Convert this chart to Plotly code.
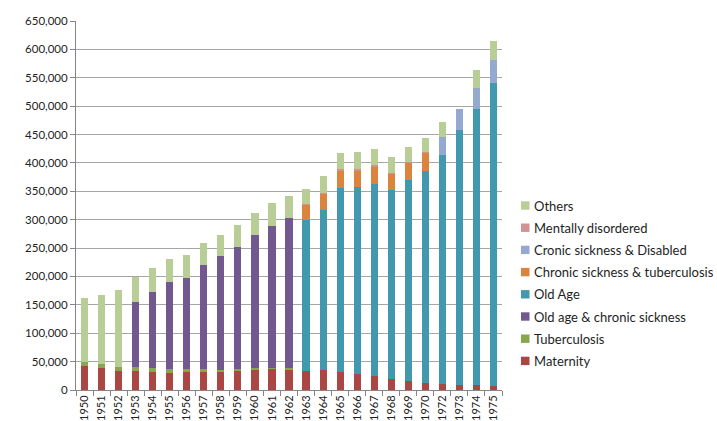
import plotly.graph_objects as go

# Categories (note: 1971 is not part of the series)
years = [str(y) for y in list(range(1950, 1971)) + [1972, 1973, 1974, 1975]]

# Recipients by category
maternity = [42000, 39000, 34000, 34000, 32000, 30500, 32000, 32000, 32500, 34000,
             36500, 37000, 36000, 33500, 35000, 32500, 28000, 24500, 19000, 16000,
             13000, 11000, 9000, 8500, 7500]
tuberculosis = [6500, 6500, 6500, 6500, 6500, 6000, 4500, 4500, 3000, 3000,
                3000, 2500, 2500, 0, 0, 0, 0, 0, 0, 0,
                0, 0, 0, 0, 0]
old_age_chronic = [0, 0, 0, 115000, 135000, 154000, 161500, 183500, 200000, 215000,
                   234000, 250000, 264500, 0, 0, 0, 0, 0, 0, 0,
                   0, 0, 0, 0, 0]
old_age = [0, 0, 0, 0, 0, 0, 0, 0, 0, 0,
           0, 0, 0, 266500, 282000, 323000, 329000, 338000, 333000, 354000,
           373500, 403000, 449000, 486000, 532500]
chronic_tb = [0, 0, 0, 0, 0, 0, 0, 0, 0, 0,
              0, 0, 0, 26000, 28500, 31500, 30500, 31500, 29000, 30000,
              31000, 0, 0, 0, 0]
chronic_disabled = [0, 0, 0, 0, 0, 0, 0, 0, 0, 0,
                    0, 0, 0, 0, 0, 0, 0, 0, 0, 0,
                    0, 32000, 36500, 38000, 41500]
mentally = [0, 0, 0, 0, 0, 0, 0, 0, 0, 0,
            0, 0, 0, 1500, 1500, 1500, 1500, 1500, 1500, 1500,
            1500, 0, 0, 0, 0]
others = [113000, 121000, 135500, 43000, 41000, 40500, 39500, 39000, 37500, 38500,
          38500, 40000, 39000, 27000, 29500, 28500, 29500, 28500, 27500, 26500,
          25000, 26500, 0, 32000, 33000]

series = [
    ("Maternity", maternity, "#AA4643"),
    ("Tuberculosis", tuberculosis, "#89A54E"),
    ("Old age & chronic sickness", old_age_chronic, "#71588F"),
    ("Old Age", old_age, "#4198AF"),
    ("Chronic sickness & tuberculosis", chronic_tb, "#DB843D"),
    ("Cronic sickness & Disabled", chronic_disabled, "#93A9CF"),
    ("Mentally disordered", mentally, "#D19392"),
    ("Others", others, "#B9CD96"),
]

FONT = "Lato"
TEXT = "#1e1e1e"
W, H = 717, 421
ML, MR, MT, MB = 76, 215, 21, 31
PW, PH = W - ML - MR, H - MT - MB

fig = go.Figure()
for name, vals, color in series:
    fig.add_trace(go.Bar(
        x=years, y=vals, name=name,
        marker=dict(color=color, line=dict(width=0)),
    ))

# Legend keys drawn beside the plot, top entry = last stacked series
def px_x(px):
    return (px - ML) / PW

def px_y(py):
    return (H - MB - py) / PH

shapes, annotations = [], []
for i, (name, _, color) in enumerate(reversed(series)):
    cy = 205.5 + i * 22.2
    shapes.append(dict(
        type="rect", xref="paper", yref="paper",
        x0=px_x(521), x1=px_x(529.5), y0=px_y(cy + 4.2), y1=px_y(cy - 4.2),
        fillcolor=color, line=dict(width=0),
    ))
    annotations.append(dict(
        xref="paper", yref="paper", x=px_x(532), y=px_y(cy),
        xanchor="left", yanchor="middle", text=name, showarrow=False,
        font=dict(family=FONT, size=13, color=TEXT),
    ))

fig.update_layout(
    width=W, height=H,
    barmode="stack", bargap=0.58,
    plot_bgcolor="white", paper_bgcolor="white",
    margin=dict(l=ML, r=MR, t=MT, b=MB, autoexpand=False),
    font=dict(family=FONT, size=12, color=TEXT),
    showlegend=False,
    shapes=shapes, annotations=annotations,
)

fig.update_xaxes(
    type="category", tickangle=-90, tickson="boundaries",
    ticks="outside", ticklen=5, tickcolor="#868686",
    showline=True, linecolor="#868686", linewidth=1,
    tickfont=dict(family=FONT, size=11, color=TEXT),
    showgrid=False, automargin=False,
)
fig.update_yaxes(
    range=[0, 650000], dtick=50000, tickformat=",",
    ticks="outside", ticklen=5, tickcolor="#868686",
    showline=True, linecolor="#868686", linewidth=1,
    showgrid=True, gridcolor="#A6A6A6", gridwidth=1,
    zeroline=False,
    tickfont=dict(family=FONT, size=11.5, color=TEXT),
    automargin=False,
)

fig.write_html("out.html")
